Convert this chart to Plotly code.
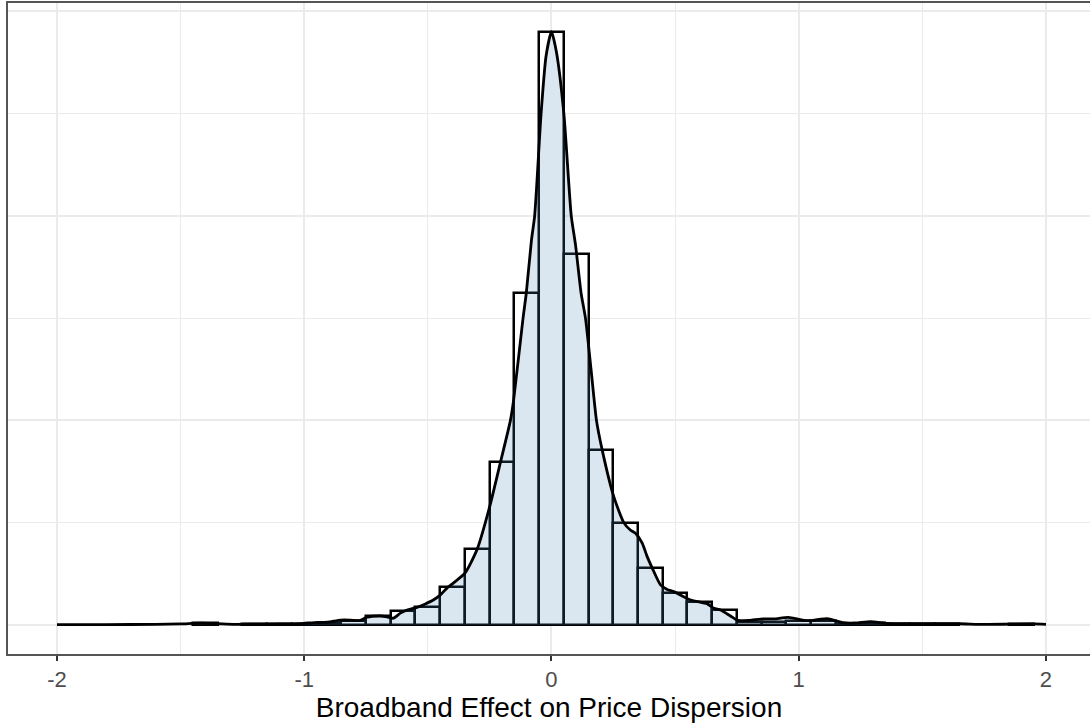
import plotly.graph_objects as go

# Histogram bins (centre of each 0.1-wide bin) and density heights
bin_centers = [round(-2.0 + 0.1 * i, 1) for i in range(41)]
bin_heights = [0, 0, 0, 0, 0, 0, 0.01, 0, 0.003, 0.003, 0.005,
               0.01, 0.02, 0.044, 0.066, 0.09, 0.184, 0.372, 0.797, 1.621,
               2.90,
               1.812, 0.856, 0.499, 0.277, 0.155, 0.111, 0.075, 0.016, 0.016, 0.021,
               0.021, 0.005, 0.01, 0.005, 0.005, 0.005, 0, 0, 0.003, 0]

# Kernel density curve
dens_x = [-2.0, -1.8, -1.6, -1.5, -1.42, -1.35, -1.28, -1.2, -1.1, -1.015,
          -0.96, -0.907, -0.853, -0.813, -0.773, -0.746, -0.692, -0.665, -0.64,
          -0.611, -0.584, -0.544, -0.51, -0.478, -0.449, -0.42, -0.397, -0.35,
          -0.3, -0.25, -0.206, -0.166, -0.153, -0.115, -0.102, -0.081, -0.068,
          -0.042, -0.022, 0.0, 0.02, 0.05, 0.08, 0.097, 0.12, 0.1375, 0.16,
          0.182, 0.205, 0.252, 0.293, 0.319, 0.34, 0.367, 0.387, 0.408, 0.441,
          0.468, 0.495, 0.563, 0.63, 0.657, 0.684, 0.724, 0.751, 0.8, 0.845,
          0.9, 0.958, 1.034, 1.08, 1.115, 1.182, 1.23, 1.29, 1.357, 1.45, 1.55,
          1.65, 1.75, 1.85, 1.95, 2.0]
dens_y = [0.002, 0.002, 0.003, 0.005, 0.009, 0.006, 0.003, 0.004, 0.005, 0.007,
          0.012, 0.014, 0.024, 0.024, 0.022, 0.038, 0.044, 0.04, 0.033,
          0.058, 0.073, 0.086, 0.103, 0.122, 0.147, 0.184, 0.205, 0.253,
          0.372, 0.578, 0.797, 1.0, 1.10, 1.5, 1.62, 1.88, 2.0,
          2.5, 2.78, 2.90, 2.80, 2.5, 2.0, 1.86, 1.62, 1.5, 1.25,
          1.0, 0.856, 0.627, 0.499, 0.464, 0.448, 0.40, 0.334, 0.277, 0.196,
          0.174, 0.163, 0.122, 0.103, 0.082, 0.073, 0.044, 0.024, 0.022, 0.029,
          0.03, 0.037, 0.021, 0.027, 0.031, 0.011, 0.01, 0.016, 0.008, 0.007, 0.007,
          0.006, 0.003, 0.004, 0.005, 0.003]

tick_vals = [-2, -1, 0, 1, 2]
tick_text = ["-2", "-1", "0", "1", "2"]
x_title = "Broadband Effect on Price Dispersion"

# only non-empty bins are drawn
bx = [c for c, h in zip(bin_centers, bin_heights) if h > 0]
by = [h for h in bin_heights if h > 0]

fig = go.Figure()
fig.add_trace(go.Bar(
    x=bx, y=by, width=0.1,
    marker=dict(color="white", line=dict(color="black", width=2.5)),
    hoverinfo="skip", showlegend=False,
))
fig.add_trace(go.Scatter(
    x=dens_x, y=dens_y, mode="lines",
    line=dict(color="black", width=2.8, shape="spline", smoothing=0.6),
    fill="tozeroy", fillcolor="rgba(70,130,180,0.2)",
    hoverinfo="skip", showlegend=False,
))

grid = "#ebebeb"
fig.update_layout(
    width=1090, height=725,
    margin=dict(l=8, r=0, t=3, b=71),
    paper_bgcolor="white", plot_bgcolor="white",
    bargap=0, showlegend=False,
    font=dict(family="Liberation Sans, Arial, sans-serif"),
    xaxis=dict(
        range=[-2.198, 2.178],
        tickvals=tick_vals, ticktext=tick_text,
        tickfont=dict(size=22, color="#4d4d4d"),
        ticks="outside", ticklen=5, tickwidth=2, tickcolor="#333333",
        showgrid=True, gridcolor=grid, gridwidth=2,
        minor=dict(dtick=0.5, tick0=0, showgrid=True, gridcolor=grid, gridwidth=1),
        zeroline=False,
        showline=True, linecolor="#555555", linewidth=1.8, mirror=True,
        title=dict(text=x_title, font=dict(size=28, color="black"), standoff=6),
    ),
    yaxis=dict(
        range=[-0.1418, 3.040],
        dtick=1, tick0=0,
        showticklabels=False, ticks="",
        showgrid=True, gridcolor=grid, gridwidth=2,
        minor=dict(dtick=0.5, tick0=0, showgrid=True, gridcolor=grid, gridwidth=1),
        zeroline=False,
        showline=True, linecolor="#555555", linewidth=1.8, mirror=False,
    ),
)

fig.write_html("out.html")
